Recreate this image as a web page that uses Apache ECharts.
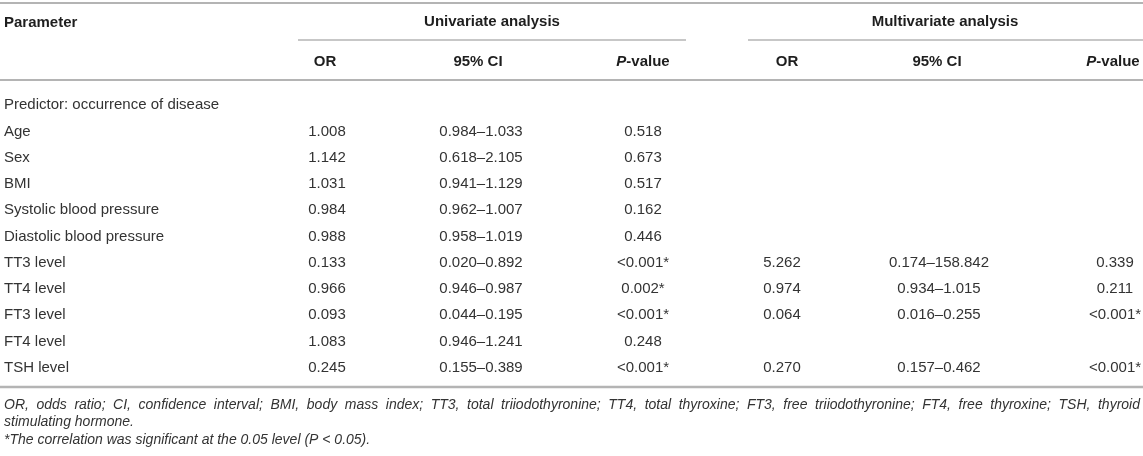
<!DOCTYPE html>
<html>
<head>
<meta charset="utf-8">
<title>Predictors of disease occurrence</title>
<script src="https://cdn.jsdelivr.net/npm/echarts@6.0.0/dist/echarts.min.js"></script>
<style>
    html, body { margin: 0; padding: 0; background: #fff; }
    #table-chart { width: 1143px; height: 456px; }
</style>
</head>
<body>
<div id="table-chart"></div>
<script>
// 表格数据
const params = ['Predictor: occurrence of disease', 'Age', 'Sex', 'BMI', 'Systolic blood pressure',
    'Diastolic blood pressure', 'TT3 level', 'TT4 level', 'FT3 level', 'FT4 level', 'TSH level'];
const uniOR   = [null, 1.008, 1.142, 1.031, 0.984, 0.988, 0.133, 0.966, 0.093, 1.083, 0.245];
const uniLow  = [null, 0.984, 0.618, 0.941, 0.962, 0.958, 0.020, 0.946, 0.044, 0.946, 0.155];
const uniHigh = [null, 1.033, 2.105, 1.129, 1.007, 1.019, 0.892, 0.987, 0.195, 1.241, 0.389];
const uniP    = ['', '0.518', '0.673', '0.517', '0.162', '0.446', '<0.001*', '0.002*', '<0.001*', '0.248', '<0.001*'];
const mulOR   = [null, null, null, null, null, null, 5.262, 0.974, 0.064, null, 0.270];
const mulLow  = [null, null, null, null, null, null, 0.174, 0.934, 0.016, null, 0.157];
const mulHigh = [null, null, null, null, null, null, 158.842, 1.015, 0.255, null, 0.462];
const mulP    = ['', '', '', '', '', '', '0.339', '0.211', '<0.001*', '', '<0.001*'];

const groupHeaders = ['Univariate analysis', 'Multivariate analysis'];
const subHeaders = ['OR', '95% CI', '{i|P}-value', 'OR', '95% CI', '{i|P}-value'];
const footnotes = [
    'OR, odds ratio; CI, confidence interval; BMI, body mass index; TT3, total triiodothyronine; TT4, total thyroxine; FT3, free triiodothyronine; FT4, free thyroxine; TSH, thyroid',
    'stimulating hormone.',
    '*The correlation was significant at the 0.05 level (P < 0.05).'
];

// 版式
const FONT = '"Liberation Sans", Arial, Helvetica, sans-serif';
const colX = [4, 327, 481, 643, 782, 939, 1115];   // 列中心（第一列为左边距）
const headX = [325, 478, 643, 787, 937, 1113];
const RULE = '#b4b4b4';
const NOTE_FONT = 'italic 14px ' + FONT;

function fmt(v) {
    return v == null ? '' : v.toFixed(3);
}
function ci(lo, hi) {
    return lo == null ? '' : fmt(lo) + '\u2013' + fmt(hi);
}

// 单元格 [列, 行, 文本]
const cells = [];
params.forEach((p, i) => {
    const row = [p, fmt(uniOR[i]), ci(uniLow[i], uniHigh[i]), uniP[i],
        fmt(mulOR[i]), ci(mulLow[i], mulHigh[i]), mulP[i]];
    row.forEach((t, c) => {
        if (t) cells.push([c, i, t]);
    });
});

// 两端对齐的脚注行
const ctx = document.createElement('canvas').getContext('2d');
ctx.font = NOTE_FONT;
function justifyLine(text, left, right, y) {
    const words = text.split(' ');
    const widths = words.map(w => ctx.measureText(w).width);
    const total = widths.reduce((a, b) => a + b, 0);
    const space = ctx.measureText(' ').width;
    const gap = Math.max(space * 0.6, (right - left - total) / (words.length - 1));
    let x = left;
    return words.map((w, k) => {
        const el = noteText(w, x, y);
        x += widths[k] + gap;
        return el;
    });
}
function noteText(text, x, y) {
    return {
        type: 'text', x: x, y: y, silent: true,
        style: {
            text: text, fill: '#333333', font: NOTE_FONT,
            align: 'left', verticalAlign: 'middle'
        }
    };
}
function rule(x1, x2, y, w) {
    return {
        type: 'line', silent: true,
        shape: { x1: x1, y1: y, x2: x2, y2: y },
        style: { stroke: RULE, lineWidth: w }
    };
}
function headText(text, x, y, align) {
    return {
        type: 'text', x: x, y: y, silent: true,
        style: {
            text: text, fill: '#1e1e1e', font: 'bold 15px ' + FONT,
            align: align || 'center', verticalAlign: 'middle',
            rich: { i: { fontStyle: 'italic', fontWeight: 'bold', fontSize: 15, fontFamily: FONT, fill: '#1e1e1e' } }
        }
    };
}

const graphics = [
    rule(0, 1143, 3, 2),
    rule(298, 686, 40, 1.5),
    rule(748, 1143, 40, 1.5),
    rule(0, 1143, 80, 2),
    rule(0, 1143, 387, 2.5),
    headText('Parameter', 4, 23, 'left'),
    headText(groupHeaders[0], 492, 22),
    headText(groupHeaders[1], 945, 22)
];
subHeaders.forEach((h, k) => graphics.push(headText(h, headX[k], 62)));
graphics.push(...justifyLine(footnotes[0], 4, 1140, 405));
graphics.push(noteText(footnotes[1], 4, 422));
graphics.push(noteText(footnotes[2], 4, 440));

const chart = echarts.init(document.getElementById('table-chart'));
chart.setOption({
    animation: false,
    grid: { left: 0, right: 0, top: 92, bottom: 75 },
    xAxis: { type: 'value', min: 0, max: 1143, show: false },
    yAxis: { type: 'category', data: params, inverse: true, show: false },
    graphic: graphics,
    series: [{
        type: 'custom',
        clip: false,
        silent: true,
        data: cells.map(c => [c[0], c[1]]),
        renderItem: function (p, api) {
            const d = cells[p.dataIndex];
            const pt = api.coord([colX[d[0]], d[1]]);
            return {
                type: 'text',
                x: pt[0],
                y: pt[1],
                style: {
                    text: d[2],
                    fill: '#333333',
                    font: '15px ' + FONT,
                    align: d[0] === 0 ? 'left' : 'center',
                    verticalAlign: 'middle'
                }
            };
        }
    }]
});
window.addEventListener('resize', () => chart.resize());
</script>
</body>
</html>
